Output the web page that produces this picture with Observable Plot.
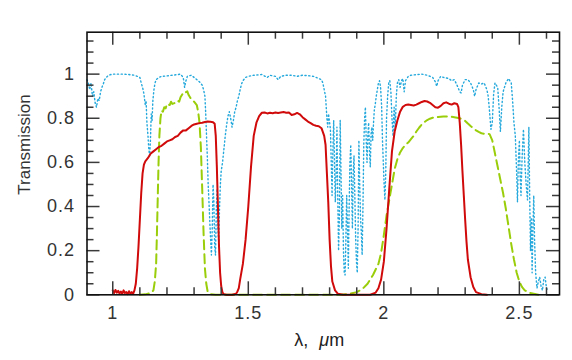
<!DOCTYPE html>
<html>
<head>
<meta charset="utf-8">
<script src="https://cdn.jsdelivr.net/npm/d3@7"></script>
<script src="https://cdn.jsdelivr.net/npm/@observablehq/plot@0.6"></script>
<style>
  html, body { margin: 0; padding: 0; background: #fff; }
  #chart { width: 572px; height: 360px; }
</style>
</head>
<body>
<div id="chart"></div>
<script>
// ---- Data ----
const atmWave = [0.905,0.91,0.915,0.92,0.925,0.93,0.935,0.94,0.945,0.95,0.955,0.96,0.965,0.97,0.98,0.99,1.0,1.02,1.04,1.06,1.08,1.09,1.1,1.105,1.11,1.115,1.12,1.123,1.126,1.13,1.133,1.136,1.139,1.142,1.145,1.148,1.152,1.156,1.16,1.17,1.18,1.2,1.22,1.24,1.25,1.26,1.265,1.27,1.275,1.29,1.3,1.31,1.32,1.33,1.335,1.34,1.343,1.346,1.349,1.352,1.355,1.358,1.361,1.364,1.367,1.37,1.373,1.376,1.379,1.382,1.385,1.388,1.391,1.394,1.397,1.4,1.405,1.41,1.415,1.42,1.425,1.43,1.435,1.44,1.445,1.45,1.455,1.46,1.465,1.47,1.475,1.48,1.49,1.5,1.52,1.55,1.57,1.58,1.6,1.61,1.62,1.64,1.66,1.68,1.7,1.72,1.74,1.75,1.76,1.77,1.775,1.78,1.785,1.79,1.793,1.796,1.8,1.803,1.806,1.809,1.812,1.815,1.818,1.821,1.824,1.827,1.83,1.833,1.836,1.839,1.842,1.845,1.848,1.851,1.854,1.857,1.86,1.863,1.866,1.869,1.872,1.875,1.878,1.881,1.884,1.887,1.89,1.893,1.896,1.899,1.902,1.905,1.908,1.911,1.914,1.917,1.92,1.923,1.926,1.929,1.932,1.935,1.938,1.941,1.944,1.947,1.95,1.953,1.956,1.959,1.962,1.965,1.968,1.972,1.976,1.98,1.984,1.988,1.992,1.995,1.998,2.001,2.004,2.007,2.01,2.014,2.018,2.022,2.026,2.03,2.034,2.038,2.042,2.046,2.05,2.055,2.06,2.065,2.07,2.075,2.08,2.09,2.1,2.12,2.14,2.16,2.18,2.19,2.195,2.2,2.21,2.22,2.24,2.25,2.26,2.27,2.28,2.285,2.29,2.3,2.31,2.32,2.33,2.335,2.34,2.35,2.36,2.37,2.38,2.385,2.39,2.395,2.4,2.405,2.41,2.42,2.425,2.43,2.435,2.44,2.45,2.46,2.47,2.475,2.48,2.485,2.49,2.493,2.496,2.5,2.503,2.506,2.51,2.515,2.52,2.525,2.53,2.535,2.538,2.541,2.544,2.547,2.55,2.553,2.556,2.56,2.565,2.57,2.575,2.58,2.585,2.59,2.595,2.6,2.605];
const atmTrans = [0.975,0.96,0.93,0.96,0.9,0.92,0.87,0.85,0.89,0.88,0.92,0.94,0.955,0.975,0.99,0.997,1.0,1.0,1.0,0.998,0.995,0.99,0.985,0.96,0.94,0.91,0.86,0.88,0.78,0.72,0.66,0.63,0.7,0.82,0.79,0.88,0.93,0.96,0.975,0.985,0.99,0.992,0.995,0.998,1.0,0.985,0.94,0.97,0.99,0.995,0.985,0.975,0.965,0.95,0.93,0.9,0.82,0.72,0.62,0.5,0.42,0.33,0.25,0.18,0.3,0.5,0.42,0.22,0.18,0.38,0.48,0.3,0.24,0.4,0.5,0.56,0.6,0.66,0.72,0.77,0.81,0.83,0.8,0.76,0.79,0.83,0.85,0.88,0.9,0.93,0.955,0.97,0.985,0.99,0.995,0.998,0.985,0.995,0.99,0.975,0.99,0.995,0.995,0.99,0.995,0.993,0.99,0.985,0.98,0.975,0.96,0.93,0.9,0.8,0.76,0.82,0.78,0.75,0.6,0.45,0.65,0.79,0.6,0.42,0.55,0.76,0.45,0.2,0.35,0.79,0.55,0.3,0.45,0.2,0.1,0.09,0.25,0.45,0.3,0.12,0.4,0.6,0.68,0.5,0.3,0.55,0.63,0.45,0.26,0.15,0.1,0.3,0.7,0.5,0.35,0.28,0.18,0.4,0.68,0.8,0.85,0.7,0.6,0.72,0.78,0.65,0.58,0.73,0.76,0.7,0.78,0.84,0.86,0.9,0.93,0.96,0.97,0.94,0.85,0.7,0.6,0.5,0.43,0.55,0.8,0.9,0.96,0.97,0.92,0.8,0.72,0.85,0.75,0.9,0.96,0.975,0.94,0.97,0.98,0.92,0.97,0.99,0.995,0.998,1.0,0.995,0.985,0.965,0.945,0.97,0.99,0.985,0.98,0.97,0.975,0.95,0.92,0.915,0.95,0.975,0.975,0.96,0.93,0.9,0.93,0.96,0.955,0.96,0.93,0.9,0.83,0.75,0.78,0.91,0.96,0.94,0.85,0.74,0.85,0.92,0.96,0.98,0.96,0.88,0.78,0.72,0.55,0.42,0.6,0.7,0.53,0.45,0.62,0.75,0.6,0.5,0.43,0.76,0.45,0.2,0.35,0.1,0.3,0.45,0.25,0.1,0.03,0.06,0.08,0.04,0.02,0.07,0.08,0.03,0.02];

const redWave = [1.0,1.005,1.01,1.015,1.02,1.025,1.03,1.035,1.04,1.045,1.05,1.055,1.06,1.065,1.07,1.075,1.08,1.085,1.09,1.095,1.1,1.105,1.11,1.115,1.12,1.13,1.14,1.15,1.16,1.17,1.18,1.19,1.2,1.21,1.22,1.23,1.24,1.25,1.26,1.27,1.28,1.29,1.3,1.31,1.32,1.33,1.34,1.35,1.36,1.37,1.376,1.38,1.384,1.388,1.392,1.396,1.4,1.405,1.41,1.42,1.44,1.455,1.46,1.465,1.47,1.48,1.49,1.5,1.51,1.52,1.53,1.54,1.55,1.56,1.57,1.58,1.59,1.6,1.61,1.62,1.63,1.64,1.65,1.66,1.67,1.68,1.69,1.7,1.71,1.72,1.73,1.74,1.75,1.76,1.77,1.78,1.785,1.79,1.795,1.8,1.805,1.81,1.82,1.83,1.85,1.95,1.97,1.98,1.99,2.0,2.01,2.02,2.03,2.04,2.05,2.06,2.07,2.08,2.09,2.1,2.11,2.12,2.13,2.14,2.15,2.16,2.17,2.18,2.19,2.2,2.21,2.22,2.23,2.24,2.25,2.26,2.27,2.275,2.28,2.285,2.29,2.295,2.3,2.305,2.31,2.32,2.33,2.34,2.36,2.38];
const redTrans = [0.02,0.008,0.022,0.01,0.018,0.006,0.015,0.004,0.02,0.008,0.012,0.003,0.016,0.005,0.012,0.004,0.02,0.05,0.12,0.22,0.34,0.46,0.55,0.59,0.605,0.62,0.64,0.65,0.66,0.67,0.675,0.685,0.695,0.7,0.705,0.715,0.72,0.735,0.745,0.745,0.755,0.765,0.772,0.775,0.778,0.78,0.783,0.785,0.784,0.782,0.775,0.72,0.58,0.4,0.22,0.1,0.04,0.01,0.003,0,0,0.005,0.015,0.03,0.07,0.14,0.25,0.4,0.58,0.72,0.78,0.81,0.825,0.826,0.822,0.825,0.823,0.826,0.824,0.826,0.828,0.825,0.826,0.815,0.818,0.824,0.818,0.805,0.795,0.785,0.778,0.77,0.766,0.764,0.755,0.72,0.68,0.55,0.42,0.25,0.13,0.06,0.02,0.005,0,0,0.01,0.03,0.07,0.15,0.3,0.48,0.65,0.74,0.79,0.83,0.852,0.86,0.862,0.86,0.858,0.862,0.868,0.874,0.878,0.876,0.87,0.86,0.85,0.848,0.856,0.868,0.872,0.866,0.862,0.868,0.865,0.85,0.78,0.68,0.56,0.45,0.34,0.24,0.16,0.08,0.035,0.012,0.003,0];

const greenWave = [1.1,1.12,1.14,1.15,1.155,1.16,1.163,1.166,1.169,1.172,1.176,1.18,1.185,1.19,1.195,1.2,1.21,1.215,1.22,1.23,1.24,1.245,1.25,1.255,1.26,1.265,1.27,1.275,1.28,1.285,1.29,1.3,1.31,1.315,1.32,1.325,1.33,1.335,1.34,1.345,1.35,1.36,1.38,1.84,1.87,1.9,1.92,1.94,1.96,1.98,1.99,2.0,2.01,2.02,2.03,2.04,2.05,2.06,2.07,2.08,2.09,2.1,2.11,2.12,2.13,2.14,2.15,2.16,2.17,2.18,2.2,2.22,2.24,2.26,2.28,2.3,2.31,2.32,2.33,2.34,2.35,2.36,2.37,2.38,2.39,2.4,2.41,2.42,2.43,2.44,2.45,2.46,2.47,2.48,2.49,2.5,2.51,2.52,2.54,2.57];
const greenTrans = [0,0.002,0.008,0.02,0.06,0.14,0.28,0.44,0.6,0.72,0.8,0.835,0.83,0.85,0.845,0.865,0.86,0.875,0.865,0.87,0.88,0.875,0.895,0.905,0.915,0.92,0.918,0.922,0.905,0.895,0.885,0.875,0.86,0.83,0.78,0.67,0.48,0.28,0.12,0.05,0.015,0.003,0,0,0.003,0.012,0.025,0.05,0.09,0.14,0.19,0.27,0.36,0.43,0.5,0.57,0.615,0.645,0.665,0.68,0.69,0.705,0.72,0.74,0.757,0.772,0.783,0.792,0.798,0.802,0.806,0.808,0.808,0.805,0.8,0.788,0.776,0.765,0.755,0.745,0.738,0.732,0.73,0.73,0.728,0.7,0.64,0.58,0.52,0.46,0.39,0.31,0.23,0.16,0.1,0.06,0.035,0.02,0.008,0];

const xMajor = [1, 1.5, 2, 2.5];
const xLabels = ["1", "1.5", "2", "2.5"];
const xMinor = [1.1,1.2,1.3,1.4,1.6,1.7,1.8,1.9,2.1,2.2,2.3,2.4,2.6];
const yMajor = [0, 0.2, 0.4, 0.6, 0.8, 1];
const yLabels = ["0", "0.2", "0.4", "0.6", "0.8", "1"];
const yMinor = [0.05,0.1,0.15,0.25,0.3,0.35,0.45,0.5,0.55,0.65,0.7,0.75,0.85,0.9,0.95,1.05,1.1,1.15];
const xTitle = "λ, μm";
const yTitle = "Transmission";

// ---- Build tables ----
const atm = atmWave.map((w, i) => ({w, t: atmTrans[i]}));
const red = redWave.map((w, i) => ({w, t: redTrans[i]}));
const green = greenWave.map((w, i) => ({w, t: greenTrans[i]}));

const W = 572, H = 360;
const mL = 86.5, mR = 13, mT = 31.7, mB = 65.7;
const IW = W - mL - mR, IH = H - mT - mB;
const majorLen = 13, minorLen = 7;
const tickColor = "#3a3a3a";

const plot = Plot.plot({
  width: W, height: H,
  marginLeft: mL, marginRight: mR, marginTop: mT, marginBottom: mB,
  x: {domain: [0.905, 2.648]},
  y: {domain: [0, 1.19]},
  style: {fontFamily: "'Liberation Sans', Arial, sans-serif", fontSize: "17px", color: "#333", background: "#fff"},
  marks: [
    Plot.line(atm, {x: "w", y: "t", stroke: "#25a9dc", strokeWidth: 1.4, strokeDasharray: "1.2,2.6"}),
    Plot.line(green, {x: "w", y: "t", stroke: "#9acd0a", strokeWidth: 2, strokeDasharray: "9,5"}),
    Plot.line(red, {x: "w", y: "t", stroke: "#d00a0a", strokeWidth: 2}),
    // inward ticks, bottom & top
    Plot.tickX(xMajor, {x: d => d, insetTop: IH - majorLen, stroke: tickColor, strokeWidth: 1.5}),
    Plot.tickX(xMinor, {x: d => d, insetTop: IH - minorLen, stroke: tickColor, strokeWidth: 1.5}),
    Plot.tickX(xMajor, {x: d => d, insetBottom: IH - majorLen, stroke: tickColor, strokeWidth: 1.5}),
    Plot.tickX(xMinor, {x: d => d, insetBottom: IH - minorLen, stroke: tickColor, strokeWidth: 1.5}),
    // inward ticks, left & right
    Plot.tickY(yMajor, {y: d => d, insetRight: IW - majorLen, stroke: tickColor, strokeWidth: 1.5}),
    Plot.tickY(yMinor, {y: d => d, insetRight: IW - minorLen, stroke: tickColor, strokeWidth: 1.5}),
    Plot.tickY(yMajor, {y: d => d, insetLeft: IW - majorLen, stroke: tickColor, strokeWidth: 1.5}),
    Plot.tickY(yMinor, {y: d => d, insetLeft: IW - minorLen, stroke: tickColor, strokeWidth: 1.5}),
    Plot.axisX({ticks: xMajor, tickSize: 0, tickPadding: 11, label: null,
      tickFormat: d => xLabels[xMajor.indexOf(d)], fontSize: 18, fill: "#333"}),
    Plot.axisY({ticks: yMajor, tickSize: 0, tickPadding: 12, label: null,
      tickFormat: d => yLabels[yMajor.indexOf(d)], fontSize: 18, fill: "#333"}),
    Plot.frame({stroke: "#111", strokeWidth: 1.6}),
    Plot.text([yTitle], {frameAnchor: "left", text: d => d, rotate: -90, textAnchor: "middle", lineAnchor: "middle",
      dx: -62, dy: -19, fontSize: 17, fill: "#333"}),
    Plot.text([xTitle], {frameAnchor: "bottom", text: d => d, textAnchor: "middle", lineAnchor: "middle",
      dx: -4, dy: 45, fontSize: 18, fill: "#222"})
  ]
});

// letter spacing for tick labels, italic μ in the x title
for (const g of plot.querySelectorAll("g[aria-label='x-axis tick label'], g[aria-label='y-axis tick label']")) {
  g.setAttribute("letter-spacing", "1");
}
for (const t of plot.querySelectorAll("text")) {
  if (t.textContent === xTitle) {
    t.textContent = "";
    const ns = "http://www.w3.org/2000/svg";
    const a = document.createElementNS(ns, "tspan"); a.textContent = "λ,";
    const b = document.createElementNS(ns, "tspan"); b.textContent = "μ"; b.setAttribute("font-style", "italic"); b.setAttribute("dx", "11");
    const c = document.createElementNS(ns, "tspan"); c.textContent = "m";
    t.append(a, b, c);
  }
}
document.getElementById("chart").append(plot);
</script>
</body>
</html>
